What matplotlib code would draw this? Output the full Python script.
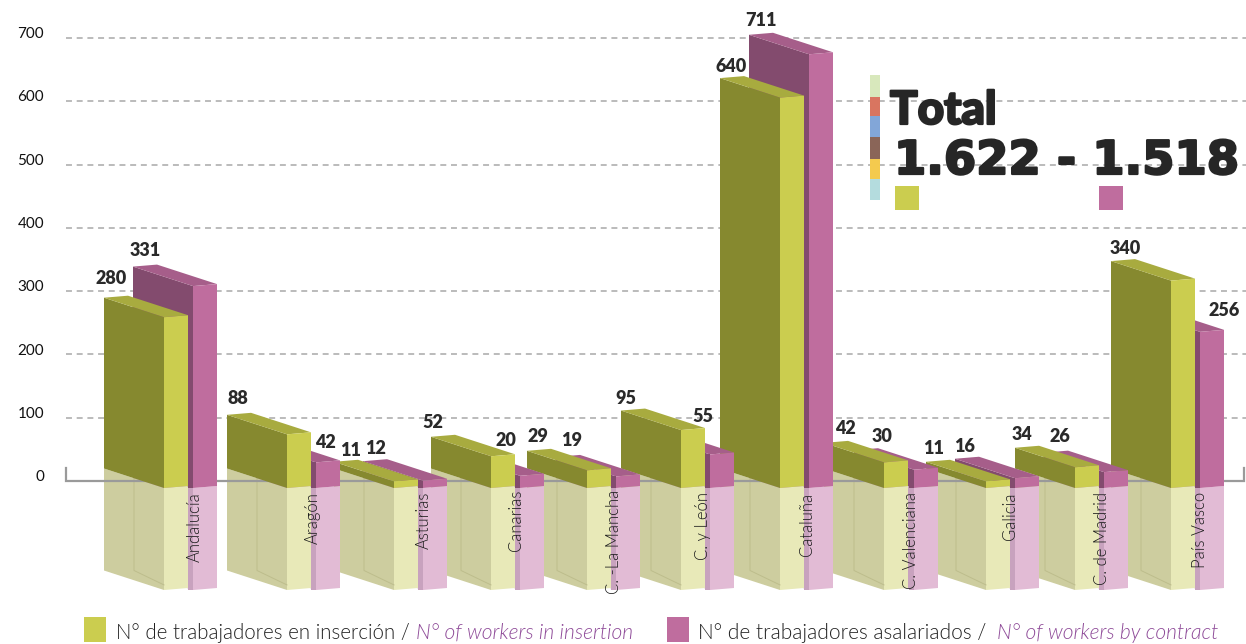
import matplotlib
matplotlib.use("Agg")
import matplotlib.pyplot as plt
import matplotlib.patheffects as pe
from matplotlib.patches import Rectangle

categories = ["Andalucía", "Aragón", "Asturias", "Canarias", "C. -La Mancha", "C. y León",
              "Cataluña", "C. Valenciana", "Galicia", "C. de Madrid", "País Vasco"]
insertion = [280, 88, 11, 52, 29, 95, 640, 42, 11, 34, 340]
contract = [331, 42, 12, 20, 19, 55, 711, 30, 16, 26, 256]
ticks = [0, 100, 200, 300, 400, 500, 600, 700]
total_text = "1.622 - 1.518"
stripe_colors = ["#D8E8BC", "#D97560", "#82A6D8", "#8A6558", "#F4CA4E", "#B4DCDE"]
stripe_edges = [75, 97, 116, 137, 159, 179, 200]

# layout, in pixels across and value units up
green_x = [164, 287, 394, 491, 587, 681, 780, 884, 986, 1075, 1171]
purple_x = [193, 316, 423, 520, 616, 710, 809, 914, 1015, 1104, 1200]
label_x = [195, 313, 424, 516, 614, 703, 807, 911, 1010, 1102, 1200]
label_top = [492, 492, 492, 490, 490, 492, 493, 492, 492, 492, 492]
green_label = [(111, 278), (238, 398), (351, 450), (433, 422), (538, 436), (626, 398),
               (731, 66), (845, 428), (934, 449), (1022, 435), (1125, 248)]
purple_label = [(145, 250), (325, 442), (376, 449), (506, 440), (572, 441), (703, 416),
                (761, 21), (882, 437), (965, 447), (1060, 437), (1224, 311)]

W = 24
DX = 60
PX = 0.633  # pixels per unit of the value axis


def py(p):
    # pixel row to value axis
    return (481 - p) / PX


DY = 19.5 / PX
SKEW = 2 / PX
BASE = py(488)
SCALE = 0.61 / PX
REFLECT = 102 / PX


def solid_bar(x, v, side, top, front):
    t = BASE + v * SCALE
    ax.fill([x - DX, x, x, x - DX], [BASE + DY, BASE, t, t + DY], color=side, lw=0, zorder=3)
    ax.fill([x - DX, x - DX + W, x + W, x], [t + DY, t + DY + SKEW, t + SKEW, t], color=top, lw=0, zorder=3)
    ax.fill([x, x + W, x + W, x], [BASE, BASE + SKEW, t + SKEW, t], color=front, lw=0, zorder=3)


def reflection(x, side, front, line):
    low = BASE - REFLECT
    ax.fill([x - DX, x, x, x - DX], [BASE + DY, BASE, low, low + DY], color=side, lw=0, zorder=1)
    ax.fill([x, x + W, x + W, x], [BASE, BASE + SKEW, low + SKEW, low], color=front, lw=0, zorder=1)
    if line:
        ax.plot([x - DX + 30, x - DX + 30, x], [BASE + DY - 10, low + DY, low + 8], color=line, lw=0.7, zorder=1)


fig = plt.figure(figsize=(12.46, 6.44), dpi=100)
ax = fig.add_axes([0, 0, 1, 1])
ax.set_xlim(0, 1246)
ax.set_ylim(py(644), py(0))
ax.axis("off")

# reflections, then the grid, then the bars
for i in reversed(range(len(categories))):
    reflection(purple_x[i], "#C8A2BE", "#E2BBD5", None)
    ax.fill([purple_x[i] - 5, purple_x[i], purple_x[i], purple_x[i] - 5],
            [BASE, BASE, BASE - REFLECT, BASE - REFLECT], color="#C8A2BE", lw=0, zorder=1)
    reflection(green_x[i], "#CDCD9F", "#E8E9B8", "#BDBD8C")

for t in ticks:
    if t > 0:
        ax.plot([66, 1246], [t, t], color="#A8A8A8", lw=1.1, dashes=(3.9, 3.1), zorder=2)
    ax.text(44, t + 6, str(t), ha="right", va="center", fontsize=11, color="#111111", family="Lato")
ax.plot([66, 66, 1244, 1244], [py(468), 0, 0, py(468)], color="#9A9A9A", lw=1.6, zorder=2,
        solid_joinstyle="miter")

for i in reversed(range(len(categories))):
    solid_bar(purple_x[i], contract[i], "#834B6E", "#A65E8A", "#BF6D9E")
    t = BASE + contract[i] * SCALE
    ax.fill([purple_x[i] - 5, purple_x[i], purple_x[i], purple_x[i] - 5],
            [BASE, BASE, t, t], color="#834B6E", lw=0, zorder=3)
    solid_bar(green_x[i], insertion[i], "#86892F", "#A8AB3F", "#CBCD4F")

for i, name in enumerate(categories):
    ax.text(label_x[i], py(label_top[i]), name, rotation=90, ha="center", va="top",
            fontsize=12, fontweight=300, color="#1E1E1E", family="Lato", zorder=5)
    ax.text(green_label[i][0], py(green_label[i][1]), str(insertion[i]), ha="center", va="center",
            fontsize=13, fontweight=800, color="#2A2A2A", family="Lato", zorder=5)
    ax.text(purple_label[i][0], py(purple_label[i][1]), str(contract[i]), ha="center", va="center",
            fontsize=13, fontweight=800, color="#2A2A2A", family="Lato", zorder=5)

# total box
heavy = [pe.withStroke(linewidth=1.6, foreground="#262626")]
for c, a, b in zip(stripe_colors, stripe_edges[:-1], stripe_edges[1:]):
    ax.add_patch(Rectangle((870, py(b)), 10, py(a) - py(b), color=c, lw=0, zorder=4))
ax.text(890, py(124), "Total", ha="left", va="baseline", fontsize=33, fontweight=900,
        family="Lato", color="#262626", zorder=5, path_effects=heavy)
ax.text(894, py(174), total_text, ha="left", va="baseline", fontsize=33.4, fontweight="bold",
        family="DejaVu Sans", color="#262626", zorder=5, path_effects=heavy)
ax.add_patch(Rectangle((895, py(210)), 24, 24 / PX, color="#CBCD4F", lw=0, zorder=4))
ax.add_patch(Rectangle((1099, py(210)), 24, 24 / PX, color="#BF6D9E", lw=0, zorder=4))

# legend along the bottom
ax.add_patch(Rectangle((84, py(642)), 22, 25 / PX, color="#CBCD4F", lw=0))
ax.add_patch(Rectangle((667, py(642)), 22, 25 / PX, color="#BF6D9E", lw=0))
ax.text(116, py(639), "N° de trabajadores en inserción /", fontsize=14.8, fontweight=300, color="#222222", family="Lato")
ax.text(416, py(639), "N° of workers in insertion", fontsize=15.1, fontweight=300, style="italic", color="#8E4A98", family="Lato")
ax.text(698, py(639), "N° de trabajadores asalariados /", fontsize=15.0, fontweight=300, color="#222222", family="Lato")
ax.text(997, py(639), "N° of workers by contract", fontsize=15.1, fontweight=300, style="italic", color="#8E4A98", family="Lato")

fig.savefig("out.png", dpi=100)
